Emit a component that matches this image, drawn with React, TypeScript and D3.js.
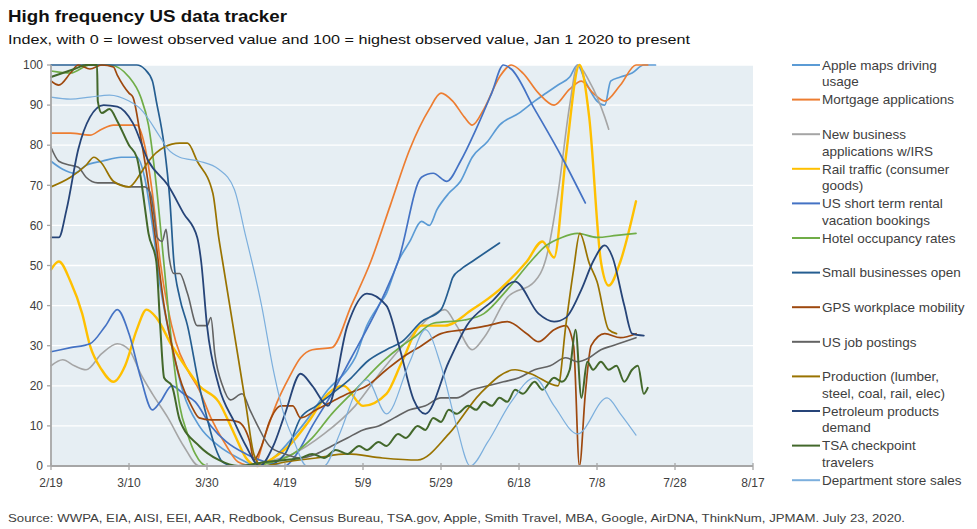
import React from "react";
import * as d3 from "d3";

type Pt = [number, number]; // [days since 2/19/2020, index value]

const START = new Date(2020, 1, 19);
const END = new Date(2020, 7, 17);
const xTickLabels = ["2/19", "3/10", "3/30", "4/19", "5/9", "5/29", "6/18", "7/8", "7/28", "8/17"];
const yTickValues = [0, 10, 20, 30, 40, 50, 60, 70, 80, 90, 100];

const appleMaps: Pt[] = [[0,76],[3,74],[6,73],[9,75],[13,76],[18,77],[22,77],[24,72],[26,60],[28,45],[31,30],[34,18],[38,10],[43,5],[48,2],[53,0],[57,2],[61,6],[66,12],[71,19],[76,24],[78,27],[81,35],[84,40],[86,43],[89,51],[92,56],[95,61],[97,60],[99,64],[102,68],[105,71],[108,77],[112,81],[115,85],[120,88],[124,91],[127,93],[130,95],[133,97],[135,100],[137,96],[140,91],[142,90],[143.5,96],[146,97],[149,98],[152,100],[155,100]];
const mortgage: Pt[] = [[0,83],[5,83],[10,82.5],[13,84],[16,85],[22,85],[24,80],[26,68],[28,51],[32,31],[35,24],[38,19],[41,12],[45,5],[48,1],[52,0],[55,8],[58,16],[61,22],[64,27],[67,29],[72,29.5],[77,40],[82,51],[87,65],[92,79],[97,89],[100,93],[103,91],[106,87],[108,85],[111,89],[115,97],[118,100],[121,98],[125,93],[129,90],[133,94],[136,96],[139,93],[142,91],[146,95],[150,100],[153,100]];
const newBusiness: Pt[] = [[0,25],[3,26.5],[6,25],[9,24],[13,28],[17,30.5],[20,29],[23,23],[26,18],[30,12],[34,5],[38,0],[45,0],[55,1],[62,3],[70,8],[78,15],[85,24],[92,32],[97,37],[101,39],[104,35],[108,29],[111,32],[117,42],[124,46],[127,52],[130,68],[133,90],[135,100],[138,96],[142,87],[143,84]];
const railTraffic: Pt[] = [[0,49],[2,51],[5,46],[8,38],[10,30],[13,24],[16,21],[19,25],[22,34],[24.5,39],[27,37],[31,30],[35,24],[38,20],[43,16],[47,8],[50,2],[53,0],[57,2],[61,5],[66,11],[71,18],[75,20],[80,15],[86,18],[90,26],[95,35],[101,35],[108,39],[115,44],[122,51],[126,56],[129,52],[132,77],[135.5,100],[138,87],[141,51],[143,45],[146,51],[150,66]];
const shortTermRental: Pt[] = [[0,28.5],[5,29.5],[10,30.5],[14,35],[17,39],[20,33],[23,22],[26,14],[28,16],[31,20],[34,18],[37,16],[41,10],[45,6],[50,3],[55,1],[60,0],[63,3],[67,10],[72,18],[77,27],[82,36],[86,44],[89,51],[95,72],[98,73],[101.5,71],[105,76],[109,84],[113,93],[116,100],[118,99],[124,89],[131,77],[137,65.6]];
const hotelOccupancy: Pt[] = [[0,98.5],[5,98],[10,100],[15,100],[20,97],[23,92],[25,85],[27,70],[29,50],[31,30],[33,15],[35,8],[37,3],[40,0],[50,0],[57,1],[62,3],[67,7],[72,13],[78,19],[85,26],[90,30],[93,32],[98,35.6],[106,36.4],[111,38],[117,44],[123,51],[127,55],[131,57],[135,58],[140,57],[145,57.5],[150,58]];
const smallBusinesses: Pt[] = [[0,100],[10,100],[18,100],[22,100],[24,99],[26,96],[27,91],[29,80],[30.5,66],[31.5,51],[33,42],[35,35],[38,20],[40,12],[42,5],[44,1],[47,0],[55,0],[60,3],[64,12],[68,15],[72,18],[77,22],[81,26],[86,29],[90,31],[95,36],[100,39],[102,44],[103,47],[105,49],[108,51],[111,53],[115,55.6]];
const gpsWorkplace: Pt[] = [[0,96],[2,95],[5,98],[7,100],[10,99],[13,100],[16,99.5],[17,97.5],[20,93],[21,92],[23,82],[25,70],[27,55],[29,40],[31,30],[33,22],[36,15],[38,12],[41,11.5],[45,11.5],[48,11],[51,6],[52,1.5],[54,5],[56,11],[59,15],[62,15],[64,12],[68,14],[72,16],[76,18],[81,20],[86,24],[90,27],[95,30],[100,33],[106,34],[112,35],[117,36],[122,33],[125,31],[129,34],[132,35],[134,30],[135.5,0],[137,18],[138.5,30],[142,33],[146,32],[150,33]];
const jobPostings: Pt[] = [[0,79.5],[2,76],[5,75],[7,74.5],[9,72],[12,70.6],[16,70.6],[20,69.6],[24,69.6],[25.5,68],[26.5,62],[27.2,57],[28.5,56],[29.5,59],[30.3,52],[31.5,48],[33,48],[35,43],[37.5,35],[40,35],[41,37],[42,28],[44,20],[46,16.5],[49,18],[51,14],[53,10],[56,5],[60,3],[64,2],[68,3],[72,5],[76,7],[80,9],[84,10],[88,12],[92,14],[96,15],[100,17],[104,17],[108,19],[112,20],[116,21],[120,22],[124,24],[128,25],[132,27],[135,26],[138,27],[141,29],[144,30],[147,31],[150,32]];
const production: Pt[] = [[0,69.6],[5,72],[9,75],[11,77],[13,75.5],[16,71],[20,69.6],[23,73],[25,76],[29,79.5],[33,80.5],[35,80.5],[37.5,76],[41.5,68],[43,57],[44,51],[47,33],[50,15],[52,3],[54,0],[60,1],[68,2],[76,3],[85,2],[94,1.5],[102,8],[110,18],[119,24],[123,23],[130,20],[132,35],[134,49],[135.6,58],[138,50.6],[140,46],[143,34],[145,33]];
const petroleum: Pt[] = [[0,57],[2,57],[4,64],[7,79],[10,87],[13.5,90],[17,89.6],[21,85.5],[25,76],[30,70],[34,63],[37.5,57],[38.5,51],[40,35],[43,20],[47,11],[50,5],[53.5,0],[57,5],[60,13],[64,23],[67,20],[71,15],[76,35],[81,43],[86,40],[89.5,29],[93,16.5],[96,13],[102,26],[106.6,35],[113,41],[119,46],[125,38],[129,36],[132,37],[136,44],[139,51],[142,55],[144,52],[147,40],[149,33],[152,32.5]];
const tsaTravelers: Pt[] = [[0,97],[3,98],[6,99],[9,100],[11.8,100],[12,91],[13,88],[15,89],[17,86],[20,80],[22,77],[23,72],[24,65],[25,58],[27,51],[28,35],[29,22],[31,20],[33,11.5],[38,5],[43,1.5],[48,0],[55,1],[60,1.5],[64,2],[67,3],[70,2],[73,4],[76,3],[79,5],[81,4],[84,6],[86,5],[89,8],[91,7],[94,10],[96,9],[98,12],[100,11],[102,14],[104,13],[107,15],[109,14],[111,16],[113,15],[115,17],[117,16],[119,19],[121,18],[124,21],[126,19],[129,22],[131,21],[133,24],[134.5,34],[136,17],[137.5,26],[139,24],[141,26],[143,24],[145,25],[147,21],[149,24],[150.5,25],[152,18],[153,19.5]];
const deptStore: Pt[] = [[0,92],[5,91.5],[10,92],[15,92.5],[20,91],[23,89],[28,82],[30,79],[33,77],[38,76],[43,74],[47,69],[50,57],[51.5,51],[54,40],[57,24],[60,12],[62,7],[65.6,0],[70,0],[74,8],[79,20],[81,21.5],[86,13],[92,26],[96,34],[100,25],[104,10],[107.5,0],[112,6],[118,16],[124,22],[129,15],[135,8],[142.6,17],[146,13],[150,7.7]];

const seriesData: Pt[][] = [appleMaps, mortgage, newBusiness, railTraffic, shortTermRental, hotelOccupancy, smallBusinesses, gpsWorkplace, jobPostings, production, petroleum, tsaTravelers, deptStore];
const seriesLabels: string[][] = [
  ["Apple maps driving", "usage"],
  ["Mortgage applications"],
  ["New business", "applications w/IRS"],
  ["Rail traffic (consumer", "goods)"],
  ["US short term rental", "vacation bookings"],
  ["Hotel occupancy rates"],
  ["Small businesses open"],
  ["GPS workplace mobility"],
  ["US job postings"],
  ["Production (lumber,", "steel, coal, rail, elec)"],
  ["Petroleum products", "demand"],
  ["TSA checkpoint", "travelers"],
  ["Department store sales"],
];
const seriesColors = ["#5b9bd5", "#ed7d31", "#a5a5a5", "#ffc000", "#4472c4", "#70ad47", "#255e91", "#9e480e", "#636363", "#997300", "#264478", "#43682b", "#7cafdd"];
const seriesWidths = [1.7, 1.7, 1.6, 2.4, 1.7, 1.7, 1.7, 1.7, 1.6, 1.7, 1.8, 2.0, 1.2];

const FONT = "'Liberation Sans', Arial, sans-serif";

export default function App() {
  const W = 977, H = 529;
  const left = 51, right = 753, top = 65, bottom = 466;
  const x = d3.scaleTime().domain([START, END]).range([left, right]);
  const y = d3.scaleLinear().domain([0, 100]).range([bottom, top]);
  const toDate = (d: number) => new Date(START.getTime() + d * 86400000);
  const line = d3.line<Pt>().x(p => x(toDate(p[0]))).y(p => y(p[1])).curve(d3.curveMonotoneX);
  const tickDates = xTickLabels.map(s => { const [m, d] = s.split("/").map(Number); return new Date(2020, m - 1, d); });
  const axisColor = "#a6a6a6";
  const textColor = "#404040";

  return (
    <svg width={W} height={H} style={{ position: "absolute", left: 0, top: 0, background: "#fff" }} fontFamily={FONT}>
      <text x={8} y={22} fontSize={17} fontWeight="bold" fill="#111" textLength={279} lengthAdjust="spacingAndGlyphs">High frequency US data tracker</text>
      <text x={8} y={44} fontSize={13.5} fill="#111" textLength={682} lengthAdjust="spacingAndGlyphs">Index, with 0 = lowest observed value and 100 = highest observed value, Jan 1 2020 to present</text>

      <rect x={left} y={top} width={right - left} height={bottom - top} fill="#e6eef3" />
      {yTickValues.filter(v => v > 0).map(v => (
        <line key={v} x1={left} x2={right} y1={y(v)} y2={y(v)} stroke="#ffffff" strokeWidth={1.3} />
      ))}

      <g>
        {seriesData.map((s, i) => (
          <path key={i} d={line(s) || ""} fill="none" stroke={seriesColors[i]} strokeWidth={seriesWidths[i]} strokeLinejoin="round" strokeLinecap="round" />
        ))}
      </g>

      <line x1={left} x2={left} y1={top} y2={bottom} stroke={axisColor} strokeWidth={1.8} />
      <line x1={left} x2={right} y1={bottom} y2={bottom} stroke={axisColor} strokeWidth={1.8} />
      {yTickValues.map(v => (
        <g key={v}>
          <line x1={left - 4} x2={left} y1={y(v)} y2={y(v)} stroke={axisColor} strokeWidth={1.3} />
          <text x={43} y={y(v)} dy="0.35em" textAnchor="end" fontSize={12} fill={textColor}>{v}</text>
        </g>
      ))}
      {tickDates.map((d, i) => (
        <g key={i}>
          <line x1={x(d)} x2={x(d)} y1={bottom - 3} y2={bottom + 4} stroke={axisColor} strokeWidth={1.3} />
          <text x={x(d)} y={487} textAnchor="middle" fontSize={12} fill={textColor}>{xTickLabels[i]}</text>
        </g>
      ))}

      {seriesLabels.map((lines, i) => {
        const ly = 65 + i * 34.6;
        return (
          <g key={i}>
            <line x1={792} x2={820} y1={ly} y2={ly} stroke={seriesColors[i]} strokeWidth={2} />
            {lines.map((t, j) => (
              <text key={j} x={822} y={ly + j * 16.7} dy="0.35em" fontSize={13.5} fill={textColor}>{t}</text>
            ))}
          </g>
        );
      })}

      <text x={8} y={522} fontSize={11.5} fill={textColor} textLength={897} lengthAdjust="spacingAndGlyphs">Source:  WWPA, EIA, AISI, EEI, AAR, Redbook, Census Bureau, TSA.gov, Apple, Smith Travel, MBA, Google, AirDNA, ThinkNum,  JPMAM. July 23, 2020.</text>
    </svg>
  );
}
